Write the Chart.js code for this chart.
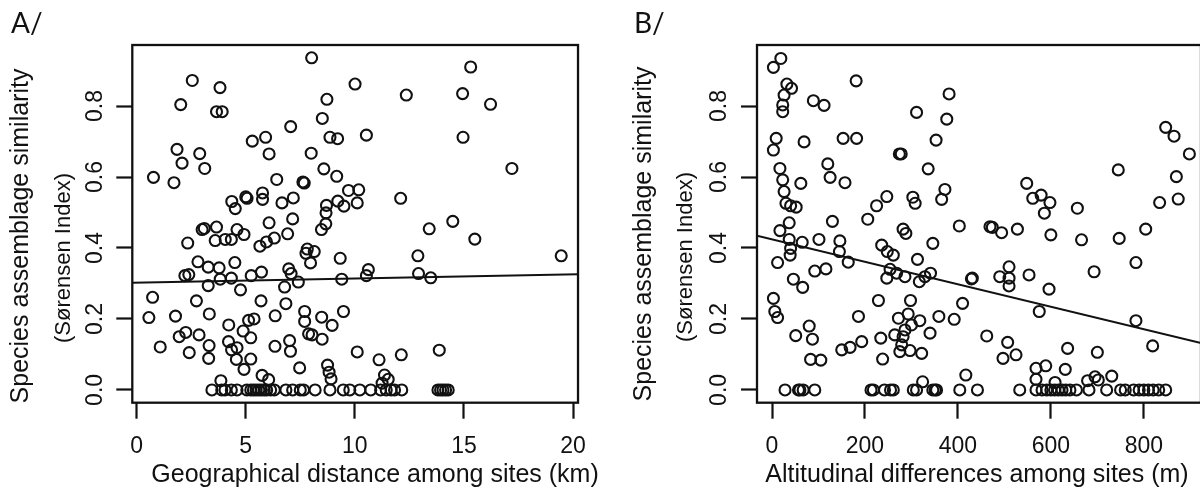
<!DOCTYPE html>
<html>
<head>
<meta charset="utf-8">
<script src="https://cdn.jsdelivr.net/npm/chart.js@4.4.1/dist/chart.umd.min.js"></script>
<style>
html,body{margin:0;padding:0;background:#fff;overflow:hidden;width:1200px;height:494px;}
canvas{position:absolute;top:0;}
#chartA{left:0;}
#chartB{left:600px;}
</style>
</head>
<body>
<canvas id="chartA" width="600" height="494"></canvas>
<canvas id="chartB" width="620" height="494"></canvas>
<script>
/* =========================================
   DATA
========================================= */

const yTicks  = [0, 0.2, 0.4, 0.6, 0.8];
const xTicksA = [0, 5, 10, 15, 20];
const xTicksB = [0, 200, 400, 600, 800];

// A/ geographical distance (km) , similarity
const geoPoints = [
  [8.02,0.936],[15.31,0.910],[2.55,0.872],[3.82,0.852],[10.01,0.862],[2.02,0.804],
  [3.66,0.784],[3.92,0.784],[12.36,0.831],[14.94,0.835],[16.22,0.805],[8.72,0.819],
  [8.51,0.765],[7.06,0.742],[5.30,0.701],[5.91,0.712],[6.07,0.665],[8.86,0.712],
  [9.21,0.708],[10.53,0.718],[14.96,0.712],[1.85,0.678],[2.08,0.639],[2.89,0.666],
  [3.12,0.624],[8.00,0.667],[8.58,0.623],[9.17,0.602],[17.2,0.624],[0.77,0.599],
  [1.71,0.584],[6.42,0.593],[7.62,0.586],[7.68,0.583],[5.77,0.555],[5.77,0.537],
  [5.00,0.544],[5.06,0.540],[4.36,0.531],[4.52,0.511],[6.66,0.527],[7.18,0.541],
  [8.70,0.520],[9.22,0.532],[9.71,0.562],[10.18,0.564],[10.11,0.527],[9.50,0.518],
  [8.68,0.499],[12.10,0.540],[6.07,0.471],[7.15,0.482],[8.67,0.468],[8.47,0.452],
  [13.41,0.454],[14.49,0.475],[15.50,0.425],[19.46,0.378],[3.00,0.452],[3.10,0.455],
  [3.66,0.459],[4.60,0.452],[4.92,0.438],[2.34,0.414],[3.60,0.421],[4.06,0.424],
  [4.34,0.424],[6.31,0.428],[5.95,0.417],[5.65,0.405],[6.92,0.440],[7.82,0.397],
  [8.14,0.390],[7.76,0.385],[7.97,0.358],[9.33,0.371],[12.89,0.378],[2.81,0.361],
  [4.50,0.359],[3.28,0.346],[3.78,0.344],[2.21,0.322],[2.39,0.325],[3.83,0.312],
  [4.34,0.315],[5.25,0.322],[5.72,0.332],[6.97,0.341],[7.08,0.328],[7.41,0.304],
  [9.40,0.312],[10.62,0.339],[10.53,0.322],[12.92,0.328],[13.48,0.316],[0.73,0.261],
  [3.28,0.294],[4.76,0.282],[6.78,0.290],[2.74,0.251],[5.70,0.251],[6.84,0.243],
  [0.56,0.204],[1.78,0.208],[3.33,0.214],[6.35,0.209],[7.70,0.221],[7.70,0.193],
  [8.48,0.205],[9.48,0.221],[5.13,0.196],[5.38,0.200],[4.22,0.183],[4.88,0.166],
  [8.96,0.182],[7.88,0.158],[8.04,0.155],[1.95,0.150],[2.25,0.162],[2.86,0.155],
  [5.23,0.147],[8.50,0.143],[4.21,0.136],[7.01,0.139],[1.08,0.121],[3.32,0.125],
  [4.35,0.113],[4.60,0.119],[6.34,0.123],[7.05,0.109],[10.11,0.107],[13.87,0.112],
  [12.13,0.099],[11.11,0.085],[2.41,0.105],[3.30,0.089],[4.57,0.086],[5.23,0.087],
  [4.92,0.058],[7.47,0.062],[8.75,0.070],[8.82,0.050],[8.91,0.031],[5.75,0.041],
  [6.05,0.029],[3.86,0.026],[11.36,0.042],[11.53,0.030],[11.25,0.019]
];

// A/ sites with similarity 0 (km)
const geoZeroKm = [
  3.45,3.90,4.05,4.34,4.60,5.05,5.23,5.35,5.47,5.60,5.72,5.85,5.96,6.14,6.31,
  6.84,7.15,7.50,7.65,8.18,8.86,9.47,9.77,10.23,10.73,11.18,11.44,11.66,11.82,
  12.15,13.81,13.93,14.04,14.16,14.28
];

const geoFit = {intercept: 0.302, slope: 0.00117};

// B/ altitudinal difference (m) , similarity
const altPoints = [
  [19,0.934],[3,0.909],[32,0.862],[42,0.850],[26,0.831],[23,0.803],[23,0.784],
  [89,0.815],[112,0.802],[181,0.871],[381,0.834],[311,0.782],[376,0.763],[9,0.709],
  [3,0.676],[69,0.699],[153,0.709],[182,0.709],[353,0.704],[274,0.665],[278,0.665],
  [17,0.624],[23,0.592],[26,0.559],[30,0.526],[40,0.519],[52,0.515],[120,0.637],
  [125,0.599],[62,0.582],[157,0.584],[336,0.623],[372,0.565],[365,0.537],[247,0.545],
  [225,0.519],[303,0.543],[308,0.526],[206,0.481],[130,0.475],[37,0.471],[17,0.449],
  [282,0.453],[288,0.441],[403,0.462],[469,0.460],
  [37,0.424],[40,0.399],[39,0.380],[65,0.416],[101,0.424],[146,0.420],[145,0.390],
  [164,0.360],[12,0.359],[46,0.312],[66,0.289],[92,0.335],[116,0.341],[236,0.408],
  [248,0.390],[261,0.380],[346,0.413],[313,0.368],[254,0.340],[268,0.329],[286,0.319],
  [247,0.315],[317,0.305],[329,0.319],[341,0.329],[431,0.315],[3,0.258],[6,0.221],
  [12,0.204],[186,0.207],[229,0.252],[298,0.252],[272,0.202],[293,0.214],[318,0.195],
  [300,0.183],[286,0.169],[282,0.150],[279,0.127],[275,0.108],[297,0.111],[322,0.103],
  [359,0.207],[392,0.199],[410,0.244],[340,0.160],[264,0.155],[462,0.152],[80,0.180],
  [87,0.143],[51,0.153],[83,0.086],[105,0.084],[150,0.113],[168,0.120],[193,0.136],
  [234,0.146],[238,0.087],[324,0.023],[417,0.042],
  [847,0.740],[865,0.715],[898,0.665],[870,0.601],[874,0.538],[834,0.528],[745,0.620],
  [804,0.453],[747,0.427],[783,0.359],[783,0.195],[819,0.124],[693,0.333],[657,0.512],
  [666,0.423],[548,0.582],[561,0.540],[579,0.549],[598,0.528],[586,0.498],[600,0.437],
  [474,0.458],[494,0.443],[528,0.453],[429,0.313],[490,0.319],[510,0.347],[510,0.315],
  [510,0.293],[553,0.324],[596,0.284],[575,0.221],[507,0.134],[525,0.099],
  [497,0.089],[636,0.117],[700,0.106],[568,0.061],[589,0.068],[568,0.030],[609,0.021],
  [631,0.058],[679,0.026],[695,0.037],[731,0.039],[702,0.028]
];

// B/ sites with similarity 0 (m)
const altZeroM = [
  28,57,60,67,92,213,218,242,255,261,304,311,346,351,354,404,442,
  533,568,581,591,600,608,616,624,632,641,655,682,720,750,760,778,790,800,
  810,820,832,847
];

const altFit = {intercept: 0.424, slope: -0.000316};


/* =========================================
   STYLE
========================================= */

const INK = '#111111';

Chart.defaults.font.family = '"Liberation Sans", Arial, sans-serif';
Chart.defaults.color = INK;


/* =========================================
   BOX + TITLES (R look)
========================================= */

const rFrame = {

  id:'rFrame',

  afterDraw(chart, args, o){

    const {ctx, chartArea:a} = chart;

    ctx.save();

    ctx.strokeStyle = INK;
    ctx.lineWidth = 2.3;
    ctx.strokeRect(a.left, a.top, a.right - a.left, a.bottom - a.top);

    ctx.fillStyle = INK;

    ctx.font = '28px Lato';
    ctx.textAlign = 'left';
    ctx.textBaseline = 'alphabetic';
    ctx.fillText(o.panel, o.panelX, 33);

    ctx.font = '25px "Liberation Sans"';
    ctx.textAlign = 'center';
    ctx.fillText(o.xTitle, o.xTitleX, 482);

    o.yTitle.forEach((t,i)=>{
      ctx.save();
      ctx.translate(o.yTitleX[i], o.yTitleY[i]);
      ctx.rotate(-Math.PI/2);
      ctx.font = o.yFont[i];
      ctx.textBaseline = 'middle';
      ctx.fillText(t, 0, 0);
      ctx.restore();
    });

    ctx.restore();

  }

};


/* =========================================
   PANEL
========================================= */

function makePanel(id, points, zeros, fit, xMin, xMax, xTicks, padRight, yWidth, titles){

  const pts = points.map(p => ({x:p[0], y:p[1]}))
    .concat(zeros.map(x => ({x:x, y:0})));

  const fitLine = [xMin, xMax].map(x => ({x:x, y:fit.intercept + fit.slope * x}));

  return new Chart(document.getElementById(id),{

    type:'scatter',

    data:{
      datasets:[
        {
          data:pts,
          pointStyle:'circle',
          pointRadius:5.5,
          borderWidth:2.1,
          borderColor:INK,
          backgroundColor:'rgba(0,0,0,0)'
        },
        {
          type:'line',
          data:fitLine,
          borderColor:INK,
          borderWidth:2,
          pointRadius:0,
          fill:false
        }
      ]
    },

    options:{

      responsive:false,
      animation:false,
      devicePixelRatio:1,
      events:[],

      layout:{
        padding:{left:0, right:padRight, top:45, bottom:0}
      },

      plugins:{
        legend:{display:false},
        tooltip:{enabled:false},
        rFrame:titles
      },

      scales:{

        x:{
          type:'linear',
          min:xMin,
          max:xMax,
          afterBuildTicks:s => { s.ticks = xTicks.map(v => ({value:v})); },
          afterFit:s => { s.height = 91.3; },
          border:{display:false},
          grid:{
            drawOnChartArea:false,
            drawTicks:true,
            tickLength:16,
            tickWidth:2.2,
            tickColor:INK
          },
          ticks:{
            font:{size:23},
            color:INK,
            padding:14,
            maxRotation:0,
            callback:v => String(v)
          }
        },

        y:{
          type:'linear',
          min:-0.036,
          max:0.972,
          afterBuildTicks:s => { s.ticks = yTicks.map(v => ({value:v})); },
          afterFit:s => { s.width = yWidth; },
          border:{display:false},
          grid:{
            drawOnChartArea:false,
            drawTicks:true,
            tickLength:16,
            tickWidth:2.2,
            tickColor:INK
          },
          ticks:{
            font:{size:23},
            color:INK,
            padding:5,
            minRotation:90,
            maxRotation:90,
            crossAlign:'center',
            callback:v => v.toFixed(1)
          }
        }

      }

    },

    plugins:[rFrame]

  });

}


makePanel(
  'chartA', geoPoints, geoZeroKm, geoFit,
  -0.2, 20.23, xTicksA, 18.3, 132.3,
  {
    panel:'A/', panelX:11,
    xTitle:'Geographical distance among sites (km)', xTitleX:375,
    yTitle:['Species assemblage similarity','(Sørensen Index)'],
    yTitleX:[21, 64], yTitleY:[236, 258],
    yFont:['25px "Liberation Sans"','22px "Liberation Sans"']
  }
);

makePanel(
  'chartB', altPoints, altZeroM, altFit,
  -32.3, 923, xTicksB, 19, 157,
  {
    panel:'B/', panelX:34,
    xTitle:'Altitudinal differences among sites (m)', xTitleX:377,
    yTitle:['Species assemblage similarity','(Sørensen Index)'],
    yTitleX:[44, 86], yTitleY:[234, 257],
    yFont:['25px "Liberation Sans"','22px "Liberation Sans"']
  }
);
</script>
</body>
</html>
